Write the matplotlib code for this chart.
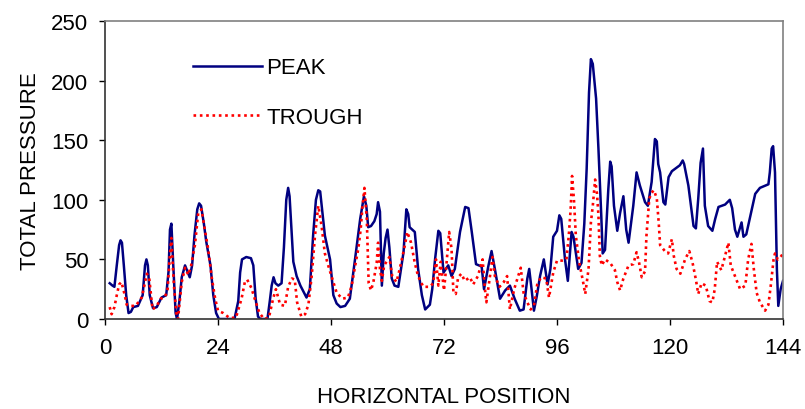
import matplotlib
matplotlib.use("Agg")
import matplotlib.pyplot as plt

plt.rcParams['font.family'] = ['Liberation Sans', 'DejaVu Sans']

# ---- data ----
peak_x = [1.0, 1.6, 2.0, 2.5, 3.0, 3.3, 3.6, 4.0, 4.5, 5.0, 5.5, 6.0, 7.0, 8.0, 8.5, 8.8, 9.1, 9.5, 10.2, 11.0,
          12.0, 13.0, 13.5, 13.8, 14.1, 14.5, 15.0, 15.3, 15.8, 16.3, 17.0, 17.5, 18.0, 18.5, 19.0, 19.6, 20.0, 20.4,
          21.0, 21.5, 22.4, 23.0, 23.6, 24.2, 27.5, 28.3, 28.7, 29.1, 30.0, 31.0, 31.5, 32.0, 32.5, 33.0, 34.5, 35.0,
          35.4, 35.8, 36.2, 36.8, 37.5, 38.0, 38.5, 38.9, 39.2, 39.6, 40.0, 40.7, 41.5, 42.8, 43.5, 44.2, 44.8, 45.3,
          45.7, 46.7, 47.8, 48.5, 49.2, 50.0, 51.0, 52.0, 53.1, 54.2, 55.0, 55.5, 55.9, 56.5, 57.2, 57.7, 58.0, 58.4,
          58.8, 59.2, 59.6, 60.0, 60.4, 60.9, 61.5, 62.3, 63.4, 64.0, 64.4, 64.7, 65.8, 66.5, 67.3, 68.0, 69.0, 69.5,
          70.1, 70.8, 71.2, 71.9, 72.4, 72.9, 73.6, 74.3, 75.4, 76.5, 77.2, 77.9, 78.8, 80.0, 80.5, 81.4, 82.1, 82.8,
          83.9, 85.0, 86.0, 87.0, 88.1, 88.9, 89.7, 90.1, 90.6, 91.1, 91.7, 92.4, 93.2, 94.0, 94.6, 95.2, 96.0, 96.5,
          96.9, 97.7, 98.3, 99.1, 99.5, 100.5, 101.2, 101.8, 102.3, 102.8, 103.2, 103.6, 104.3, 104.8, 105.4, 105.7,
          106.2, 106.9, 107.3, 107.6, 108.1, 108.8, 109.4, 110.1, 110.7, 111.2, 112.2, 112.9, 113.6, 114.7, 115.3,
          116.1, 116.8, 117.2, 117.5, 117.9, 118.6, 119.0, 119.7, 120.4, 122.1, 122.7, 123.0, 123.9, 125.0, 125.5,
          126.0, 126.5, 127.0, 127.4, 128.1, 129.0, 129.6, 130.3, 131.7, 132.7, 133.2, 133.8, 134.3, 135.2, 135.6,
          136.2, 137.1, 138.1, 139.1, 140.9, 141.2, 141.6, 141.9, 142.3, 142.7, 143.0, 143.5, 144.0]
peak_y = [30, 28, 27, 45, 62, 66, 64, 45, 20, 5, 6, 10, 11, 20, 45, 50, 45, 20, 9, 10,
          18, 20, 40, 75, 80, 45, 5, 0, 15, 35, 45, 40, 35, 45, 70, 92, 97, 95,
          80, 65, 45, 20, 5, 0, 0, 15, 39, 50, 52, 51, 45, 17, 2, 0, 0, 15,
          28, 35, 30, 28, 30, 60, 100, 110, 103, 75, 48, 36, 28, 18, 25, 70, 100, 108,
          107, 70, 50, 20, 13, 10, 11, 17, 50, 84, 103, 95, 77, 78, 82, 88, 98, 90,
          28, 55, 68, 75, 60, 34, 28, 27, 56, 92, 88, 77, 73, 42, 20, 8, 12, 25,
          50, 74, 72, 39, 42, 45, 36, 42, 73, 94, 93, 73, 46, 44, 25, 44, 57, 42,
          17, 24, 28, 17, 7, 8, 34, 42, 25, 7, 19, 36, 50, 29, 42, 69, 74, 87,
          84, 50, 32, 73, 69, 42, 47, 80, 126, 190, 218, 214, 185, 143, 87, 55,
          58, 109, 132, 128, 95, 74, 89, 103, 75, 64, 95, 123, 112, 98, 95,
          115, 151, 149, 130, 123, 98, 96, 119, 124, 129, 133, 130, 112, 78, 76,
          101, 131, 143, 95, 78, 74, 84, 94, 96, 100, 93, 75, 69, 81, 69,
          71, 87, 105, 110, 113, 123, 143, 145, 123, 42, 11, 25, 32]

trough_x = [1.0, 1.4, 2.0, 2.5, 3.0, 3.5, 4.2, 4.6, 5.5, 6.5, 7.8, 8.9, 9.4, 10.1, 11.0, 11.8, 12.7, 13.3, 13.8,
            14.1, 14.4, 14.7, 15.2, 15.5, 16.3, 17.0, 17.7, 18.3, 19.1, 19.8, 20.5, 21.2, 21.9, 22.7, 23.4, 24.0,
            25.1, 26.4, 27.8, 29.0, 29.7, 30.2, 31.1, 31.8, 32.8, 33.8, 34.8, 35.7, 36.3, 37.2, 38.2, 38.9, 39.7,
            40.3, 40.8, 41.7, 42.5, 43.2, 43.9, 44.6, 45.3, 46.0, 46.7, 47.4, 48.1, 49.2, 50.4, 51.6, 52.4, 53.1,
            53.8, 54.3, 54.7, 55.1, 55.6, 56.0, 56.5, 57.0, 57.7, 58.0, 58.4, 58.8, 59.3, 60.4, 61.0, 61.9, 62.6,
            63.7, 64.2, 65.0, 65.8, 66.5, 67.6, 69.0, 69.7, 70.3, 70.8, 71.3, 72.0, 72.5, 73.1, 73.6, 74.0, 74.5,
            75.0, 75.7, 76.4, 77.5, 78.2, 79.2, 80.2, 80.7, 81.0, 81.7, 82.3, 82.8, 83.8, 84.7, 85.4, 86.0, 86.9,
            87.6, 88.3, 88.9, 89.7, 90.4, 91.1, 91.8, 92.6, 93.7, 94.3, 95.2, 96.0, 97.1, 98.0, 98.5, 98.9, 99.2,
            99.6, 100.0, 100.7, 101.5, 102.0, 102.7, 103.2, 103.6, 104.1, 104.5, 104.8, 105.1, 105.5, 106.2, 107.3,
            108.3, 108.8, 109.4, 110.1, 111.2, 112.2, 112.9, 113.4, 114.0, 114.7, 115.0, 115.6, 116.1, 116.6, 117.2,
            117.6, 117.9, 118.9, 119.6, 120.4, 120.8, 121.4, 122.2, 123.2, 124.1, 124.8, 125.5, 126.0, 126.7, 127.6,
            128.4, 129.0, 129.5, 130.0, 130.9, 131.7, 132.4, 132.9, 133.8, 134.9, 136.0, 136.6, 137.3, 137.8, 138.4,
            139.1, 140.2, 140.9, 141.4, 142.0, 142.3, 142.9, 143.5, 144.0]
trough_y = [10, 4, 10, 20, 29, 31, 20, 12, 11, 11, 18, 38, 34, 8, 11, 17, 18, 25, 55,
            68, 45, 25, 4, 0, 31, 43, 37, 45, 62, 89, 92, 75, 59, 34, 17, 7,
            5, 1, 1, 17, 31, 33, 26, 17, 5, 0, 1, 17, 25, 12, 11, 27, 34,
            33, 14, 2, 4, 12, 36, 70, 95, 78, 55, 45, 36, 22, 17, 18, 28, 44,
            59, 75, 95, 110, 84, 30, 24, 31, 47, 64, 42, 32, 45, 52, 36, 31, 42,
            62, 73, 64, 47, 36, 27, 27, 30, 50, 28, 48, 24, 45, 73, 59, 22, 21,
            35, 38, 32, 35, 29, 36, 50, 25, 14, 34, 52, 36, 27, 31, 36, 8, 25,
            34, 43, 22, 14, 8, 11, 29, 35, 34, 18, 39, 49, 49, 50, 70, 92, 120,
            100, 70, 48, 32, 21, 42, 81, 95, 117, 105, 87, 53, 45, 50, 47,
            41, 31, 24, 34, 45, 46, 56, 48, 35, 40, 70, 101, 106, 108, 101,
            81, 62, 57, 55, 67, 53, 42, 38, 50, 57, 47, 33, 21, 30, 28,
            15, 14, 25, 48, 41, 53, 64, 45, 36, 25, 28, 50, 63, 42, 22,
            14, 7, 12, 28, 50, 55, 50, 52, 55]

x_ticks = [0, 24, 48, 72, 96, 120, 144]
y_ticks = [0, 50, 100, 150, 200, 250]
series_names = ["PEAK", "TROUGH"]

# ---- figure ----
fig = plt.figure(figsize=(8.05, 4.10), dpi=100)
ax = fig.add_axes([105 / 805, 1 - 320 / 410, 678 / 805, 298 / 410])

ax.plot(peak_x, peak_y, color="#000080", lw=1.8, label=series_names[0], solid_joinstyle="round")
ax.plot(trough_x, trough_y, color="#FF0000", lw=1.9, linestyle=(0, (1.0, 1.4)), label=series_names[1])

ax.set_xlim(0, 144)
ax.set_ylim(0, 250)
ax.set_xticks(x_ticks)
ax.set_yticks(y_ticks)
ax.tick_params(direction="out", length=4, width=1, labelsize=16, colors="black")
ax.tick_params(axis="x", pad=9)
ax.tick_params(axis="y", pad=8)

for side in ["top", "right"]:
    ax.spines[side].set_color("#808080")
    ax.spines[side].set_linewidth(1.2)
for side in ["left", "bottom"]:
    ax.spines[side].set_color("#333333")
    ax.spines[side].set_linewidth(1.2)

ax.set_xlabel("HORIZONTAL POSITION", fontsize=16, labelpad=20)
ax.set_ylabel("TOTAL PRESSURE", fontsize=16, labelpad=7)

leg = ax.legend(loc="upper left", bbox_to_anchor=(0.13, 0.878), frameon=False, fontsize=16,
                handlelength=3.1, handletextpad=0.18, labelspacing=1.3, borderpad=0, borderaxespad=0)

fig.savefig("out.png", dpi=100)
